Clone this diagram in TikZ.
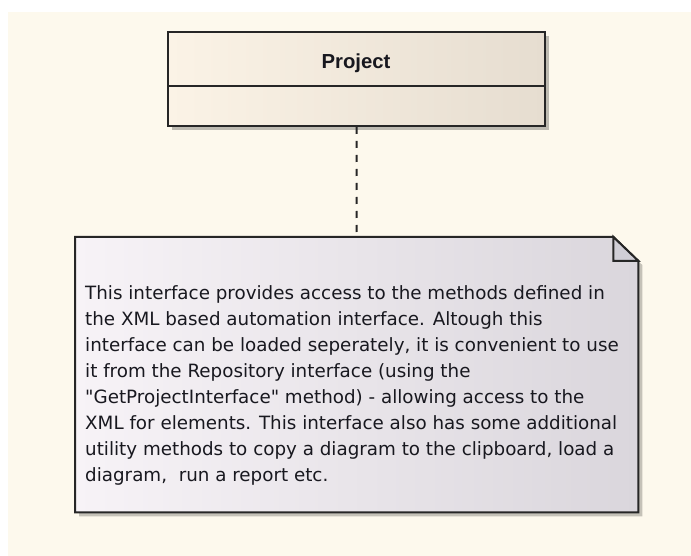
\documentclass[tikz,border=0pt]{standalone}
\usepackage{fontspec}
\setmainfont{Liberation Sans}
\newfontfamily\notefont{DejaVu Sans}
\usetikzlibrary{calc,shadows}
\definecolor{bgcream}{HTML}{FDF9ED}
\definecolor{boxleft}{HTML}{FBF3E6}
\definecolor{boxright}{HTML}{E6DDD0}
\definecolor{noteleft}{HTML}{F7F3F7}
\definecolor{noteright}{HTML}{DAD6DC}
\definecolor{edge}{HTML}{262626}
\definecolor{foldgray}{HTML}{D0CED6}
\definecolor{inktext}{HTML}{18181F}
\begin{document}
\begin{tikzpicture}[x=1pt,y=-1pt,
  classpart/.style={rectangle, draw=edge, line width=2pt, left color=boxleft, right color=boxright,
    minimum width=377pt, inner sep=0pt, anchor=north west,
    drop shadow={shadow xshift=4pt, shadow yshift=-4pt, fill=black, opacity=0.25}},
  noteshape/.style={rectangle, minimum width=563pt, minimum height=275pt, inner sep=0pt, anchor=north west},
  notetxt/.style={inner sep=0pt, anchor=north west, align=left, text=inktext,
    font=\notefont\fontsize{18.3}{26}\selectfont},
  titletxt/.style={inner sep=0pt, anchor=base, text=inktext, font=\bfseries\fontsize{20.3}{24}\selectfont},
  link/.style={draw=edge, line width=2pt, dash pattern=on 7pt off 7pt}
]
\useasboundingbox (0,0) rectangle (691,556);
\fill[white] (0,0) rectangle (691,556);
\fill[bgcream] (8,12) rectangle (692,557);

% class box
\node[classpart, minimum height=54pt] (head) at (167,31) {};
\node[classpart, minimum height=40pt] (body) at (167,85) {};
\node[titletxt] (title) at (356,68.5) {Project};

% note
\node[noteshape] (note) at (75,237) {};
\fill[black, opacity=0.22]
  ($(note.north west)+(4,4)$) -- ($(note.north east)+(-25,4)$) -- ($(note.north east)+(4,28)$)
  -- ($(note.south east)+(4,4)$) -- ($(note.south west)+(4,4)$) -- cycle;
\path[draw=edge, line width=2pt, left color=noteleft, right color=noteright]
  (note.north west) -- ($(note.north east)+(-25,0)$) -- ($(note.north east)+(0,24)$)
  -- (note.south east) -- (note.south west) -- cycle;
\draw[edge, line width=2pt, fill=foldgray, line join=miter]
  ($(note.north east)+(-25,0)$) -- ($(note.north east)+(-25,24)$) -- ($(note.north east)+(0,24)$) -- cycle;
\node[notetxt] (notetext) at (85,285.5) {This interface provides access to the methods defined in\\
the XML based automation interface. Altough this\\
interface can be loaded seperately, it is convenient to use\\
it from the Repository interface (using the\\
"GetProjectInterface" method) - allowing access to the\\
XML for elements. This interface also has some additional\\
utility methods to copy a diagram to the clipboard, load a\\
diagram,\ \ run a report etc.};

% connector
\draw[link] (body.south) -- (note.north);
\end{tikzpicture}
\end{document}
